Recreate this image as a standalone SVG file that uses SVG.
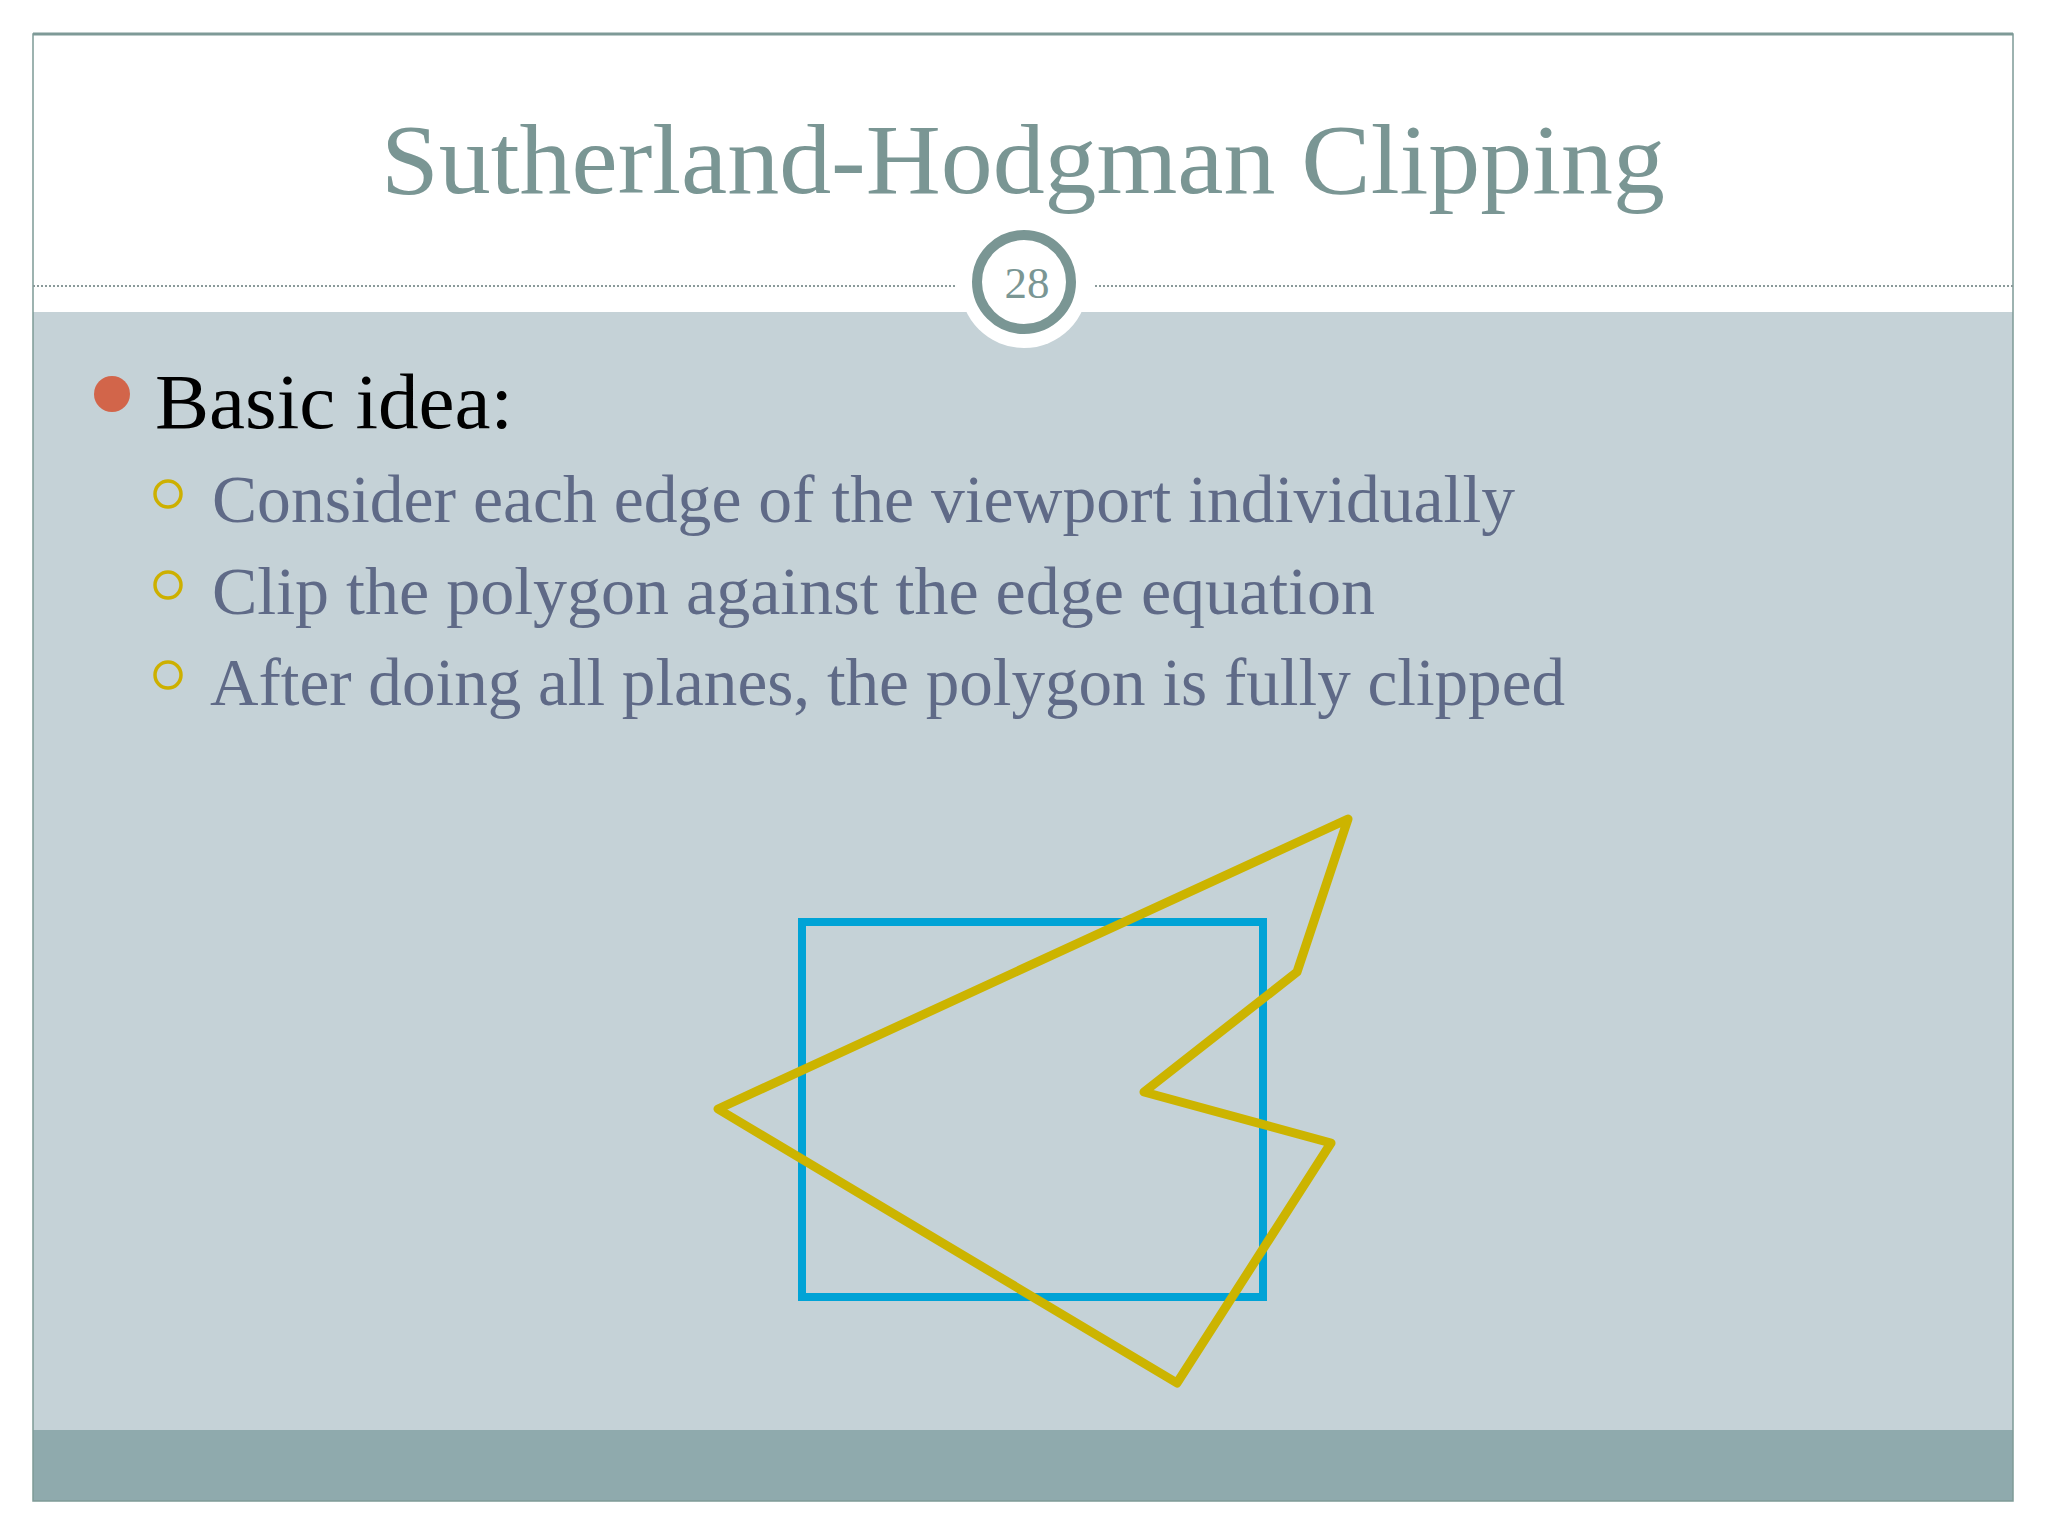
<svg xmlns="http://www.w3.org/2000/svg" width="2048" height="1536" viewBox="0 0 2048 1536">
<style>
.title{font-family:"Liberation Serif","DejaVu Serif",serif;fill:#7A9694;font-size:100px}
.lvl1{font-family:"Liberation Serif","DejaVu Serif",serif;fill:#000;font-size:78px}
.lvl2{font-family:"Liberation Serif","DejaVu Serif",serif;fill:#5F6A87;font-size:68px}
.sub{fill:none;stroke:#CDB000;stroke-width:3.5}
</style>
<rect x="0" y="0" width="2048" height="1536" fill="#FFFFFF"/>
<g id="slide">
<rect x="33" y="312" width="1980" height="1118" fill="#C5D2D7"/>
<rect x="33" y="1430" width="1980" height="71" fill="#8FAAAD"/>
<rect x="33" y="34" width="1980" height="1467" fill="none" stroke="#7E9A97" stroke-width="1.5"/>
<line x1="33" y1="34" x2="2013" y2="34" stroke="#7E9A97" stroke-width="3"/>
<line x1="33" y1="286" x2="955" y2="286" stroke="#8A9A9A" stroke-width="2" stroke-dasharray="2,2"/>
<line x1="1095" y1="286" x2="2013" y2="286" stroke="#8A9A9A" stroke-width="2" stroke-dasharray="2,2"/>
</g>
<g id="title">
<text class="title" x="1023" y="193" text-anchor="middle" textLength="1284" lengthAdjust="spacingAndGlyphs">Sutherland-Hodgman Clipping</text>
</g>
<g id="page-number">
<circle cx="1024" cy="284" r="64" fill="#FFFFFF"/>
<circle cx="1024" cy="282" r="47" fill="#FFFFFF" stroke="#7A9694" stroke-width="10"/>
<text x="1027" y="298" text-anchor="middle" font-family="Liberation Serif, DejaVu Serif, serif" font-size="45" fill="#7A9694">28</text>
</g>
<g id="bullets">
<circle cx="112" cy="394" r="18" fill="#D2654A"/>
<text class="lvl1" x="155" y="428" textLength="358" lengthAdjust="spacingAndGlyphs">Basic idea:</text>
<circle class="sub" cx="168" cy="494" r="13"/>
<text class="lvl2" x="212" y="522" textLength="1303" lengthAdjust="spacingAndGlyphs">Consider each edge of the viewport individually</text>
<circle class="sub" cx="168" cy="585" r="13"/>
<text class="lvl2" x="212" y="614" textLength="1163" lengthAdjust="spacingAndGlyphs">Clip the polygon against the edge equation</text>
<circle class="sub" cx="168" cy="675" r="13"/>
<text class="lvl2" x="210" y="705" textLength="1355" lengthAdjust="spacingAndGlyphs">After doing all planes, the polygon is fully clipped</text>
</g>
<g id="viewport">
<rect x="802" y="922" width="461" height="375" fill="none" stroke="#00A3D6" stroke-width="8"/>
</g>
<g id="polygon">
<polygon points="1348,819 1297,972 1144,1092 1331,1143 1177,1383 718,1109" fill="none" stroke="#CCB400" stroke-width="9" stroke-linejoin="round"/>
</g>
</svg>
